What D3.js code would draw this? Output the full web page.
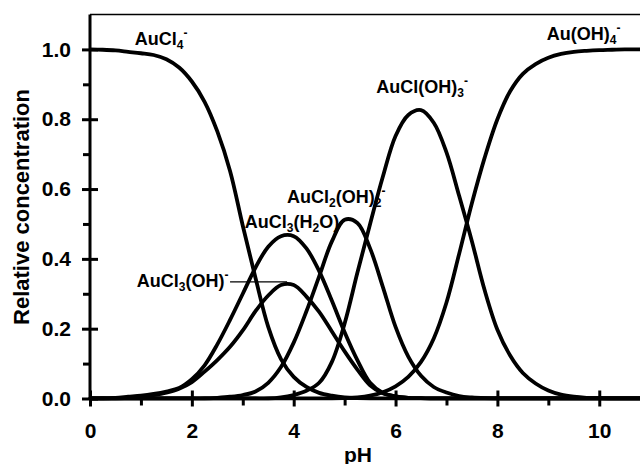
<!DOCTYPE html>
<html>
<head>
<meta charset="utf-8">
<script src="https://cdn.jsdelivr.net/npm/d3@7"></script>
<style>
  body { margin: 0; background: #fff; }
  text { font-family: Arial, "Liberation Sans", Helvetica, sans-serif; font-weight: bold; fill: #000; }
</style>
</head>
<body>
<div id="chart"></div>
<script>
// --------------------------------------
//  Data
// --------------------------------------

const pH = [0, 0.25, 0.5, 0.75, 1, 1.25, 1.5, 1.75, 2, 2.25, 2.5, 2.75, 3, 3.25, 3.5, 3.75,
            4, 4.25, 4.5, 4.75, 5, 5.25, 5.5, 5.75, 6, 6.25, 6.5, 6.75, 7, 7.25, 7.5, 7.75,
            8, 8.25, 8.5, 8.75, 9, 9.25, 9.5, 9.75, 10, 10.25, 10.5, 10.75, 11];

const auCl4 = [1.0, 0.999, 0.997, 0.993, 0.989, 0.984, 0.972, 0.948, 0.908, 0.85, 0.765, 0.652,
               0.495, 0.345, 0.205, 0.113, 0.062, 0.033, 0.016, 0.008, 0.003, 0.001, 0, 0,
               0, 0, 0, 0, 0, 0, 0, 0, 0, 0, 0, 0, 0, 0, 0, 0, 0, 0, 0, 0, 0];

const auCl3H2O = [0, 0, 0.002, 0.005, 0.008, 0.013, 0.02, 0.03, 0.055, 0.095, 0.155, 0.225,
                  0.30, 0.375, 0.435, 0.465, 0.465, 0.43, 0.365, 0.28, 0.19, 0.11, 0.045, 0.016,
                  0.006, 0.002, 0.001, 0, 0, 0, 0, 0, 0, 0, 0, 0, 0, 0, 0, 0, 0, 0, 0, 0, 0];

const auCl3OH = [0, 0, 0, 0.002, 0.005, 0.01, 0.017, 0.028, 0.047, 0.077, 0.11, 0.148,
                 0.195, 0.25, 0.295, 0.325, 0.325, 0.292, 0.248, 0.192, 0.135, 0.083, 0.038, 0.015,
                 0.006, 0.002, 0.001, 0, 0, 0, 0, 0, 0, 0, 0, 0, 0, 0, 0, 0, 0, 0, 0, 0, 0];

const auCl2OH2 = [0, 0, 0, 0, 0, 0, 0, 0, 0, 0, 0.002, 0.005,
                  0.01, 0.02, 0.045, 0.09, 0.16, 0.25, 0.35, 0.45, 0.512, 0.503, 0.43, 0.32,
                  0.205, 0.12, 0.065, 0.033, 0.017, 0.007, 0.003, 0.001, 0, 0, 0, 0,
                  0, 0, 0, 0, 0, 0, 0, 0, 0];

const auClOH3 = [0, 0, 0, 0, 0, 0, 0, 0, 0, 0, 0, 0, 0, 0, 0, 0.003,
                 0.01, 0.022, 0.045, 0.105, 0.215, 0.36, 0.50, 0.635, 0.752, 0.812, 0.826, 0.79,
                 0.705, 0.58, 0.45, 0.31, 0.197, 0.123, 0.073, 0.043, 0.023, 0.011, 0.005, 0.002,
                 0.001, 0, 0, 0, 0];

const auOH4 = [0, 0, 0, 0, 0, 0, 0, 0, 0, 0, 0, 0, 0, 0, 0, 0, 0, 0, 0, 0,
               0.001, 0.003, 0.008, 0.018, 0.035, 0.062, 0.105, 0.172, 0.275, 0.415, 0.56, 0.69,
               0.80, 0.88, 0.93, 0.958, 0.976, 0.987, 0.993, 0.996, 0.998, 0.999, 1.0, 1.0, 1.0];

const series = [auCl4, auCl3H2O, auCl3OH, auCl2OH2, auClOH3, auOH4];

const xMajor = [0, 2, 4, 6, 8, 10];
const xMinor = [1, 3, 5, 7, 9];
const yMajor = [0, 0.2, 0.4, 0.6, 0.8, 1.0];
const yMinor = [0.1, 0.3, 0.5, 0.7, 0.9];

// species labels: pieces are [text, "n" | "sub" | "sup"], anchor in data units
const labels = [
  { at: [0.88, 1.013], parts: [["AuCl", "n"], ["4", "sub"], ["-", "sup"]] },
  { at: [3.04, 0.489], parts: [["AuCl", "n"], ["3", "sub"], ["(H", "n"], ["2", "sub"], ["O)", "n"]] },
  { at: [3.87, 0.560], parts: [["AuCl", "n"], ["2", "sub"], ["(OH)", "n"], ["2", "sub"], ["-", "sup"]] },
  { at: [0.92, 0.320], parts: [["AuCl", "n"], ["3", "sub"], ["(OH)", "n"], ["-", "sup"]] },
  { at: [5.62, 0.875], parts: [["AuCl(OH)", "n"], ["3", "sub"], ["-", "sup"]] },
  { at: [8.97, 1.027], parts: [["Au(OH)", "n"], ["4", "sub"], ["-", "sup"]] }
];
const leader = [[2.75, 0.334], [3.87, 0.334]];

// --------------------------------------
//  Canvas
// --------------------------------------

const width = 640, height = 464;

const svg = d3.select("#chart")
  .append("svg")
    .attr("width", width)
    .attr("height", height);

// --------------------------------------
//  Scales
// --------------------------------------

const x = d3.scaleLinear().domain([0, 10.8]).range([90, 640]);
const y = d3.scaleLinear().domain([0, 1.1]).range([398.5, 14.5]);

svg.append("clipPath").attr("id", "plot")
  .append("rect")
    .attr("x", x(0)).attr("y", y(1.1))
    .attr("width", x(10.8) - x(0)).attr("height", y(0) - y(1.1) + 2);

// --------------------------------------
//  Curves
// --------------------------------------

const line = d3.line()
  .x((d, i) => x(pH[i]))
  .y(d => y(d))
  .curve(d3.curveCatmullRom.alpha(0.5));

svg.append("g")
    .attr("clip-path", "url(#plot)")
  .selectAll("path")
  .data(series)
  .join("path")
    .attr("d", line)
    .attr("fill", "none")
    .attr("stroke", "#000")
    .attr("stroke-width", 3.8)
    .attr("stroke-linejoin", "round");

// --------------------------------------
//  Axes
// --------------------------------------

// top frame line
svg.append("line")
    .attr("x1", x(0)).attr("x2", x(10.8))
    .attr("y1", y(1.1)).attr("y2", y(1.1))
    .attr("stroke", "#000").attr("stroke-width", 1.5);

const yAxis = svg.append("g")
    .attr("transform", `translate(${x(0)},0)`)
    .call(d3.axisLeft(y).tickValues(yMajor).tickFormat(d3.format(".1f")).tickSize(8).tickPadding(11));

const yMinorAxis = svg.append("g")
    .attr("transform", `translate(${x(0)},0)`)
    .call(d3.axisLeft(y).tickValues(yMinor).tickFormat("").tickSize(7));

const xAxis = svg.append("g")
    .attr("transform", `translate(0,${y(0)})`)
    .call(d3.axisBottom(x).tickValues(xMajor).tickFormat(d3.format("d")).tickSize(8).tickPadding(20));

const xMinorAxis = svg.append("g")
    .attr("transform", `translate(0,${y(0)})`)
    .call(d3.axisBottom(x).tickValues(xMinor).tickFormat("").tickSize(7));

[yAxis, yMinorAxis, xAxis, xMinorAxis].forEach(g => {
  g.select(".domain").remove();
  g.selectAll("line").attr("stroke", "#000").attr("stroke-width", 3);
  g.selectAll("text").attr("font-size", 21).attr("fill", "#000")
    .style("font-family", "Arial, 'Liberation Sans', sans-serif").style("font-weight", "bold");
});

// major ticks cross the axis
yAxis.selectAll(".tick line").attr("x1", 8).attr("x2", -8);
xAxis.selectAll(".tick line").attr("y1", -8).attr("y2", 8);
xAxis.selectAll(".tick text").attr("dy", "0.55em");

// axis lines
svg.append("line")
    .attr("x1", x(0)).attr("x2", x(0))
    .attr("y1", y(1.1)).attr("y2", y(0) + 1.5)
    .attr("stroke", "#000").attr("stroke-width", 3);

svg.append("line")
    .attr("x1", x(0) - 1.5).attr("x2", x(10.8))
    .attr("y1", y(0)).attr("y2", y(0))
    .attr("stroke", "#000").attr("stroke-width", 3);

// axis titles
svg.append("text")
    .attr("x", 358).attr("y", 461.5)
    .attr("text-anchor", "middle")
    .attr("font-size", 21)
    .text("pH");

svg.append("text")
    .attr("transform", "translate(29,207) rotate(-90)")
    .attr("text-anchor", "middle")
    .attr("font-size", 22)
    .text("Relative concentration");

// --------------------------------------
//  Species labels
// --------------------------------------

const shift = { n: 0, sub: 4, sup: -8 };

labels.forEach(l => {
  const t = svg.append("text")
      .attr("x", x(l.at[0]))
      .attr("y", y(l.at[1]))
      .attr("font-size", 18);
  let cur = 0;
  l.parts.forEach(([s, kind]) => {
    t.append("tspan")
        .attr("dy", shift[kind] - cur)
        .attr("font-size", kind === "n" ? 18 : 12)
        .text(s);
    cur = shift[kind];
  });
});

svg.append("line")
    .attr("x1", x(leader[0][0])).attr("x2", x(leader[1][0]))
    .attr("y1", y(leader[0][1])).attr("y2", y(leader[1][1]))
    .attr("stroke", "#000").attr("stroke-width", 1.3);
</script>
</body>
</html>
